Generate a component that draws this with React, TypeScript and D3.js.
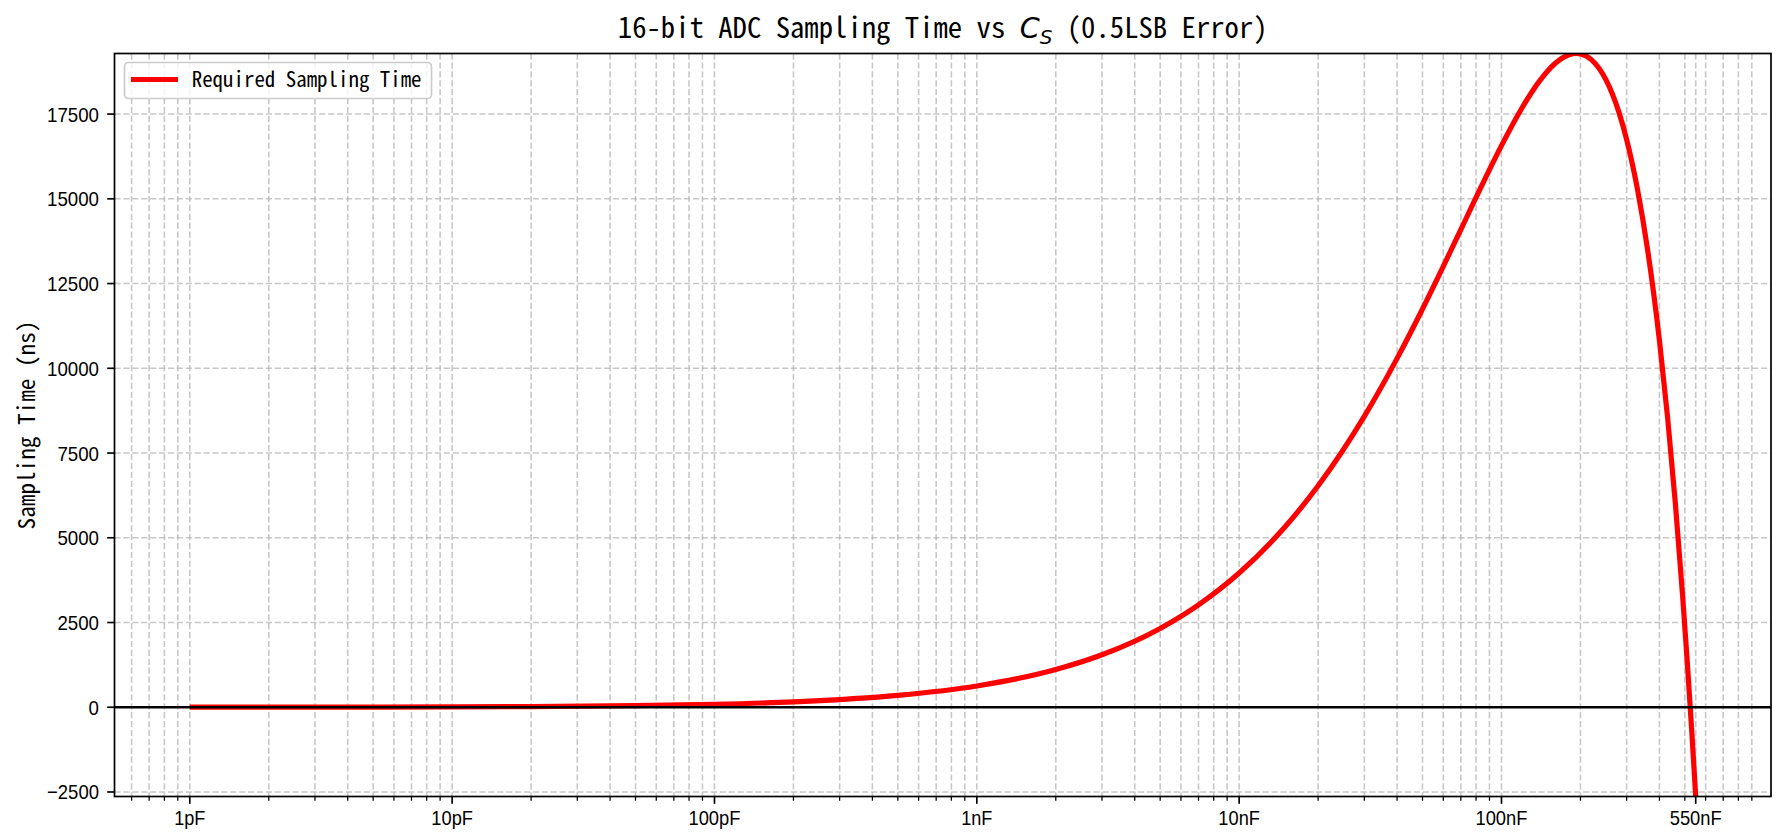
import React from 'react';
import * as d3 from 'd3';

// ---- data (capacitance in nF, sampling time in ns) ----
const capacitanceNF = [0.001, 0.002, 0.005, 0.01, 0.02, 0.05, 0.1, 0.2, 0.5, 1, 2, 3, 5, 7, 10, 15, 20, 30, 40, 50, 60, 70, 80, 90, 100, 120, 140, 160, 180, 193, 200, 220, 250, 280, 300, 330, 360, 400, 430, 460, 490, 510, 530, 550];
const samplingTimeNs = [1.3, 2.5, 5.8, 10.9, 20.3, 46.3, 85.6, 157.4, 347.8, 626.2, 1113.8, 1549, 2326, 3021, 3959, 5331, 6533, 8582, 10293, 11750, 13006, 14094, 15040, 15861, 16569, 17695, 18486, 18992, 19243, 19287, 19275, 19105, 18515, 17564, 16748, 15277, 13534, 10823, 8525, 6018, 3314, 1409, -574, -2633];

const xTickValues = [0.001, 0.01, 0.1, 1, 10, 100, 550];
const xTickLabels = ['1pF', '10pF', '100pF', '1nF', '10nF', '100nF', '550nF'];
const yTickValues = [-2500, 0, 2500, 5000, 7500, 10000, 12500, 15000, 17500];

const titleMain = '16-bit ADC Sampling Time vs';
const titleTail = '(0.5LSB Error)';
const yLabel = 'Sampling Time (ns)';
const legendLabel = 'Required Sampling Time';

// ---- layout ----
const W = 1776;
const H = 837;
const L = 114.5;
const R = 1771;
const T = 53.5;
const B = 796.5;

const MONO = "'Noto Sans Mono CJK SC', 'DejaVu Sans Mono', monospace";
const SANS = "'Liberation Sans', Arial, sans-serif";
const MATH = "'DejaVu Sans', sans-serif";

const GRID = { stroke: '#b0b0b0', strokeOpacity: 0.7, strokeWidth: 1.6, strokeDasharray: '6.2 2.7' };

export default function App() {
  const lx0 = Math.log10(d3.min(capacitanceNF) as number);
  const lx1 = Math.log10(d3.max(capacitanceNF) as number);
  const span = lx1 - lx0;
  const x = d3.scaleLog().domain([Math.pow(10, lx0 - 0.05 * span), Math.pow(10, lx1 + 0.05 * span)]).range([L, R]);
  const [ymin, ymax] = d3.extent(samplingTimeNs) as [number, number];
  const y = d3.scaleLinear().domain([ymin, ymax]).range([B, T]);

  const [d0, d1] = x.domain();
  const minorTicks: number[] = [];
  for (let e = -5; e <= 4; e++) {
    for (let m = 2; m <= 9; m++) {
      const v = m * Math.pow(10, e);
      if (v >= d0 && v <= d1) minorTicks.push(v);
    }
  }

  const pts: [number, number][] = capacitanceNF.map((c, i) => [x(c), y(samplingTimeNs[i])]);
  const line = d3.line<[number, number]>().x(d => d[0]).y(d => d[1]).curve(d3.curveMonotoneX);
  const pathD = line(pts) || '';

  const tickFs = 21;
  const tickPitch = 10.4;

  // title geometry
  const tFs = 28.7;
  const tPitch = 14.35;
  const mathW = 32.8;
  const totalW = (titleMain.length + 1) * tPitch + mathW + tPitch + titleTail.length * tPitch;
  const tx0 = (L + R) / 2 - totalW / 2;
  const cX = tx0 + (titleMain.length + 1) * tPitch;
  const tailX = cX + mathW + tPitch;
  const tBase = 37.5;

  return (
    <svg width={W} height={H} viewBox={`0 0 ${W} ${H}`} style={{ position: 'absolute', left: 0, top: 0, display: 'block', background: '#fff' }}>
      <defs>
        <clipPath id="plotclip">
          <rect x={L} y={T} width={R - L} height={B - T} />
        </clipPath>
      </defs>
      <rect x={0} y={0} width={W} height={H} fill="#fff" />

      {/* grid */}
      <g>
        {minorTicks.map((v, i) => (
          <line key={'gm' + i} x1={x(v)} x2={x(v)} y1={T} y2={B} {...GRID} />
        ))}
        {xTickValues.map((v, i) => (
          <line key={'gx' + i} x1={x(v)} x2={x(v)} y1={T} y2={B} {...GRID} />
        ))}
        {yTickValues.map((v, i) => (
          <line key={'gy' + i} x1={L} x2={R} y1={y(v)} y2={y(v)} {...GRID} />
        ))}
      </g>

      {/* curve */}
      <g clipPath="url(#plotclip)">
        <path d={pathD} fill="none" stroke="#ff0000" strokeWidth={5.2} strokeLinejoin="round" />
        <line x1={L} x2={R} y1={y(0)} y2={y(0)} stroke="#000" strokeWidth={2.6} />
      </g>

      {/* spines */}
      <rect x={L} y={T} width={R - L} height={B - T} fill="none" stroke="#000" strokeWidth={1.7} />

      {/* x ticks */}
      {minorTicks.map((v, i) => (
        <line key={'tm' + i} x1={x(v)} x2={x(v)} y1={B} y2={B + 4.2} stroke="#000" strokeWidth={1.25} />
      ))}
      {xTickValues.map((v, i) => {
        const w = xTickLabels[i].length * tickPitch;
        return (
          <g key={'tx' + i}>
            <line x1={x(v)} x2={x(v)} y1={B} y2={B + 7.3} stroke="#000" strokeWidth={1.67} />
            <text x={x(v) - w / 2} y={825} fontFamily={SANS} fontSize={tickFs} textLength={w} lengthAdjust="spacingAndGlyphs" fill="#000">
              {xTickLabels[i]}
            </text>
          </g>
        );
      })}

      {/* y ticks */}
      {yTickValues.map((v, i) => {
        const label = v < 0 ? '\u2212' + Math.abs(v) : String(v);
        const w = label.length * tickPitch;
        return (
          <g key={'ty' + i}>
            <line x1={L - 7.3} x2={L} y1={y(v)} y2={y(v)} stroke="#000" strokeWidth={1.67} />
            <text x={99 - w} y={y(v) + 7.5} fontFamily={SANS} fontSize={tickFs} textLength={w} lengthAdjust="spacingAndGlyphs" fill="#000">
              {label}
            </text>
          </g>
        );
      })}

      {/* y label */}
      <g transform={`translate(35, ${(T + B) / 2}) rotate(-90)`}>
        <text x={-(yLabel.length * 11.6) / 2} y={0} fontFamily={MONO} fontSize={23.2} textLength={yLabel.length * 11.6} lengthAdjust="spacingAndGlyphs" fill="#000">
          {yLabel}
        </text>
      </g>

      {/* title */}
      <text x={tx0} y={tBase} fontFamily={MONO} fontSize={tFs} textLength={titleMain.length * tPitch} lengthAdjust="spacingAndGlyphs" fill="#000">
        {titleMain}
      </text>
      <text x={cX} y={tBase} fontFamily={MATH} fontSize={tFs} fontStyle="italic" fill="#000">C</text>
      <text x={cX + 20} y={tBase + 6} fontFamily={MATH} fontSize={20} fontStyle="italic" fill="#000">S</text>
      <text x={tailX} y={tBase} fontFamily={MONO} fontSize={tFs} textLength={titleTail.length * tPitch} lengthAdjust="spacingAndGlyphs" fill="#000">
        {titleTail}
      </text>

      {/* legend */}
      <g>
        <rect x={124.5} y={62.5} width={307} height={36} rx={4} ry={4} fill="#fff" fillOpacity={0.8} stroke="#cccccc" strokeWidth={1.7} />
        <line x1={131} x2={178} y1={79.5} y2={79.5} stroke="#ff0000" strokeWidth={5.2} />
        <text x={191.7} y={86.7} fontFamily={MONO} fontSize={20.9} textLength={legendLabel.length * 10.45} lengthAdjust="spacingAndGlyphs" fill="#000">
          {legendLabel}
        </text>
      </g>
    </svg>
  );
}
